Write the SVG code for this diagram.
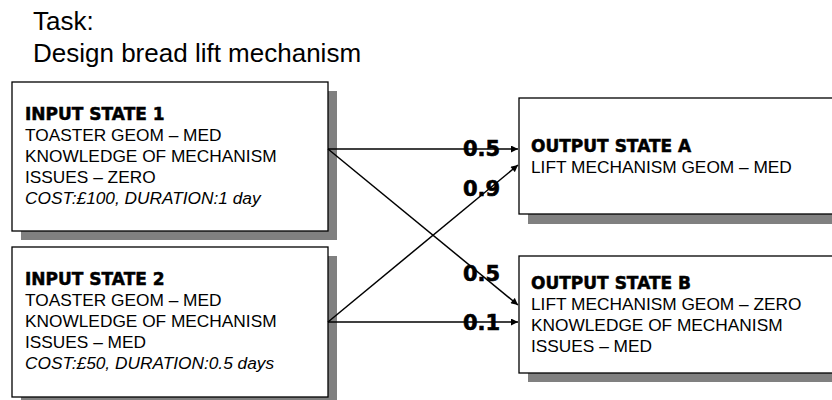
<svg xmlns="http://www.w3.org/2000/svg" width="832" height="400" viewBox="0 0 832 400">
<defs>
<marker id="ah" viewBox="0 0 10 10" refX="10" refY="5" markerWidth="9" markerHeight="7" markerUnits="userSpaceOnUse" orient="auto">
<path d="M0,0 L10,5 L0,10 z" fill="#000"/>
</marker>
<style>
.shadow{fill:#808080;}
.box{fill:#fff;stroke:#000;stroke-width:1.3;}
.title{font-family:"Liberation Sans",Arial,sans-serif;font-size:26px;fill:#000;}
.hd{font-family:"DejaVu Sans",sans-serif;font-weight:bold;font-size:17px;fill:#000;stroke:#000;stroke-width:0.5;}
.tx{font-family:"Liberation Sans",Arial,sans-serif;font-size:17.3px;fill:#000;}
.it{font-style:italic;}
.edge{fill:none;stroke:#000;stroke-width:1.5;}
.lbl{font-family:"DejaVu Sans",sans-serif;font-weight:bold;font-size:21px;fill:#000;stroke:#000;stroke-width:0.6;}
</style>
</defs>
<rect width="832" height="400" fill="#fff"/>
<g id="title">
<text class="title" x="33" y="30">Task:</text>
<text class="title" x="33" y="62">Design bread lift mechanism</text>
</g>
<g id="input1">
<rect class="shadow" x="21" y="91" width="316" height="149"/>
<rect class="box" x="12" y="82" width="316" height="149"/>
<text class="hd" x="25" y="120">INPUT STATE 1</text>
<text class="tx" x="25" y="141">TOASTER GEOM – MED</text>
<text class="tx" x="25" y="162">KNOWLEDGE OF MECHANISM</text>
<text class="tx" x="25" y="183">ISSUES – ZERO</text>
<text class="tx it" x="25" y="204">COST:£100, DURATION:1 day</text>
</g>
<g id="input2">
<rect class="shadow" x="21" y="256" width="316" height="150"/>
<rect class="box" x="12" y="247" width="316" height="150"/>
<text class="hd" x="25" y="285">INPUT STATE 2</text>
<text class="tx" x="25" y="306">TOASTER GEOM – MED</text>
<text class="tx" x="25" y="327">KNOWLEDGE OF MECHANISM</text>
<text class="tx" x="25" y="348">ISSUES – MED</text>
<text class="tx it" x="25" y="369">COST:£50, DURATION:0.5 days</text>
</g>
<g id="outputA">
<rect class="shadow" x="528" y="107" width="320" height="117"/>
<rect class="box" x="519" y="98" width="330" height="116"/>
<text class="hd" x="531" y="152">OUTPUT STATE A</text>
<text class="tx" x="531" y="173">LIFT MECHANISM GEOM – MED</text>
</g>
<g id="outputB">
<rect class="shadow" x="528" y="265" width="320" height="117"/>
<rect class="box" x="519" y="256" width="330" height="117"/>
<text class="hd" x="531" y="289">OUTPUT STATE B</text>
<text class="tx" x="531" y="310">LIFT MECHANISM GEOM – ZERO</text>
<text class="tx" x="531" y="331">KNOWLEDGE OF MECHANISM</text>
<text class="tx" x="531" y="352">ISSUES – MED</text>
</g>
<g id="connectors">
<line class="edge" x1="328" y1="149" x2="518" y2="149" marker-end="url(#ah)"/>
<line class="edge" x1="328" y1="149" x2="518" y2="305" marker-end="url(#ah)"/>
<line class="edge" x1="328" y1="322" x2="518" y2="165" marker-end="url(#ah)"/>
<line class="edge" x1="328" y1="322" x2="518" y2="322" marker-end="url(#ah)"/>
<text class="lbl" x="463" y="156">0.5</text>
<text class="lbl" x="463" y="196">0.9</text>
<text class="lbl" x="463" y="281">0.5</text>
<text class="lbl" x="463" y="330">0.1</text>
</g>
</svg>
